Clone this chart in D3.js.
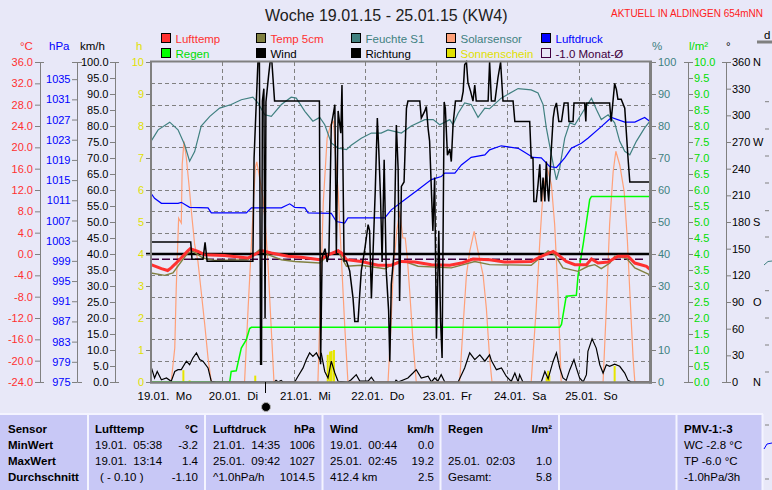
<!DOCTYPE html>
<html><head><meta charset="utf-8">
<script src="https://cdn.jsdelivr.net/npm/d3@7/dist/d3.min.js"></script>
<style>
html,body{margin:0;padding:0;background:#e8e8f8;overflow:hidden}
svg{display:block}
</style></head><body>
<svg id="chart" width="772" height="490"></svg>
<script>
// ---------------- DATA (hours since 19.01. 00:00) ----------------
const dayLabels = ["19.01.  Mo","20.01.  Di","21.01.  Mi","22.01.  Do","23.01.  Fr","24.01.  Sa","25.01.  So"];

const tempHours = [0,3.5,5.6,6.8,9.6,12.4,13.2,15.8,18.0,24.7,32.6,35.9,37.6,40.5,46.1,50.6,56.8,59.8,63.0,64.1,65.8,70.8,76.4,80.9,84.3,88.8,94.4,100.6,104.5,108.4,114.0,119.0,128.0,131.4,135.4,137.0,139.8,142.7,146.6,148.3,150.5,153.9,157.2,160.6,162.9,166.8,168];
const tempVals  = [-2.0,-2.75,-3.1,-2.6,-1.07,0.6,1.0,0.5,-0.13,-0.3,-0.75,0.19,0.6,0.19,-0.43,-0.6,-1.07,-0.13,0.6,0.2,-1.07,-1.4,-2.1,-2.1,-1.4,-1.5,-2.0,-2.1,-1.7,-0.94,-1.07,-1.5,-1.4,-0.43,0.5,-0.13,-1.4,-2.0,-2.0,-0.94,-1.7,-1.5,-0.43,-0.43,-1.7,-2.3,-2.9];

const soilHours = [0,4.6,7.4,10.2,12.4,14.1,17.5,21.4,32.6,36.6,39.4,43.9,48.4,56.8,59.8,63.0,65.8,70.8,78.7,83.2,85.4,89.9,101.1,109.0,114.0,128.0,130.9,133.7,135.9,138.7,143.8,147.1,149.4,151.6,154.5,156.1,160.0,162.9,168];
const soilVals  = [-3.56,-4.0,-3.56,-1.4,0.19,0.5,-0.75,-1.2,-1.07,0.81,-0.13,-1.07,-1.4,-1.7,-0.13,0.5,-2.3,-2.1,-2.75,-1.4,-1.4,-2.3,-2.6,-1.4,-2.0,-2.1,-0.75,0.6,-0.13,-2.6,-3.25,-2.3,-2.0,-2.75,-1.7,-0.43,-0.75,-2.6,-3.9];

const humHours = [0,2.4,6.3,9.1,11.3,13.0,14.7,16.9,19.8,23.1,27.0,30.4,34.3,36.0,38.3,40.5,43.9,47.2,48.9,51.8,54.5,56.8,58.5,60.7,63.0,65.8,67.4,70.8,74.2,77.5,79.8,84.3,87.6,92.2,95.0,97.2,100.6,101.7,103.4,105.6,107.8,110.1,112.4,114.0,117.9,123.6,128.0,130.3,132.0,133.1,134.8,135.9,136.5,137.6,139.3,141.0,142.7,145.5,148.3,150.0,151.6,153.9,156.1,157.8,159.5,161.2,163.4,166.2,168];
const humVals  = [75.2,78.8,81.2,78.8,74.2,69,72,80,83,85.6,86.7,88.2,89,87.2,83.5,83,86.7,89,88.7,84.6,81.5,82.7,80.4,74.7,73.1,72.6,74,76.2,77.8,77.8,78.8,77.8,80,82,82,80.4,82,80.4,84,87.2,86.7,82.7,85.6,85.4,88.7,91.7,91.3,90.3,86.7,79.4,71,65.8,63.2,66.9,76.2,81,80.4,84.6,88.7,85.1,82,83.5,81,75.2,72.1,71,75.2,79.4,81.5];

const presHours = [0,1.2,3.5,9.1,10.2,13.0,19.2,20.3,32.1,33.8,43.9,46.7,48.4,51.8,52.9,60.7,62.4,65.2,66.3,78.7,80.9,85.4,89.9,94.4,97.7,98.9,102.3,104.5,107.8,112.4,114.0,117.9,123.6,125.8,128.6,131.4,134.2,136.5,139.3,141.5,144.9,147.1,151.6,155.0,159.5,162.9,166.2,168];
const presVals  = [1012.4,1011.4,1010.4,1010.4,1010.6,1009.6,1009.5,1008.5,1008.5,1009.5,1009.5,1010.3,1009.6,1009.5,1008.5,1008.4,1006.8,1006.5,1007.5,1007.5,1009.1,1011.1,1013.1,1015.1,1015.7,1016.4,1016.4,1018,1019.5,1020,1021,1021.8,1021.3,1020.5,1019.5,1019.4,1017.7,1017.5,1019.4,1021.3,1022.3,1023.3,1025.6,1027.4,1026.5,1026.5,1027.4,1026.6];

const rainHours = [0,26.5,27.0,28.7,30.4,32.1,33.2,33.8,137.6,138.2,139.8,143.2,143.8,145.5,146.6,147.7,148.3,168];
const rainVals  = [0,0,0.33,0.35,1.06,1.32,1.67,1.71,1.71,1.8,2.68,2.71,3.35,4.3,5.0,5.7,5.8,5.8];

const sunHours = [10.9,13.0,35.1,59.5,60.3,60.8,61.6,133.2,133.7,134.1,156.1];
const sunVals  = [0.37,0.05,0.2,0.85,0.95,0.97,1.0,0.15,0.35,0.2,0.5];

const solarHours = [0,6.8,8.0,8.5,9.3,10.2,10.5,11.1,11.9,13.0,13.6,14.7,15.8,16.9,18.1,19.2,20.3,
  31.5,32.7,33.8,34.7,35.1,35.6,36.6,37.7,38.5,39.4,40.3,41.4,
  56.2,57.0,58.0,59.3,60.5,61.5,62.0,63.0,64.1,65.2,66.3,
  79.8,80.7,81.5,82.6,83.7,84.8,85.6,86.3,87.1,88.2,89.3,
  103.9,105.1,106.2,107.3,108.8,110.1,111.8,112.9,114.0,114.8,
  128.0,129.7,130.9,132.0,133.4,134.8,135.9,137.0,137.6,138.1,
  152.2,153.3,154.4,155.6,156.5,157.8,159.3,160.4,161.2,162.3,162.9,168];
const solarVals = [0,0,106,294,512,497,679,752,700,596,533,429,377,283,179,75,0,
  0,231,429,596,669,688,637,575,492,367,200,0,
  0,250,560,762,804,815,721,596,387,179,0,
  0,158,335,460,533,450,450,387,283,127,0,
  0,179,335,408,471,408,335,231,75,0,
  0,231,440,596,669,617,492,283,127,0,
  0,231,492,658,721,679,596,440,283,75,0,0];

const windHours = [0,1.2,2.1,3.5,5.2,6.8,8.0,9.1,10.2,11.9,13.0,14.1,15.3,16.4,17.5,19.2,20.3,21.9,41.6,42.1,42.8,43.8,44.4,48.4,49.5,51.2,52.3,53.4,54.5,55.7,56.8,57.3,58.5,59.6,60.7,61.9,63.0,66.3,67.4,69.1,70.3,73.1,74.2,75.3,82.1,82.5,83.2,86.5,88.2,89.3,91.0,93.3,94.4,95.5,96.6,97.7,98.9,103.4,105.6,107.3,109.0,110.7,112.4,114.0,114.6,116.3,118.0,119.6,121.3,122.5,123.6,124.1,125.2,131.4,132.6,133.7,135.4,136.5,137.6,138.7,139.8,141.0,142.4,143.2,144.3,145.5,146.6,147.1,148.5,149.9,151.1,152.2,153.3,154.4,156.1,157.8,159.5,160.6,161.7,168];
const windVals  = [4.9,1.25,3.3,0.7,1.25,0.2,3.3,3.85,3.85,6.5,5.4,7.5,9.1,7.0,6.5,4.4,0.2,0,0,0.5,0,0.5,0,0,1.8,4.4,7.0,9.1,8.0,9.1,7.0,9.1,3.3,1.25,6.5,2.8,0.2,0,0.7,2.3,0.3,0.3,1.5,0,0,0.6,0,1.25,2.8,3.85,1.25,1.8,0,1.25,0.3,2.3,0,0,4.4,9.1,7.0,8.5,6.5,8.5,6.7,3.85,4.4,1.8,0.2,2.8,0,2.3,0,0,3.3,1.0,6.5,9.1,4.4,1.25,0.5,3.85,7.0,4.4,1.25,0,2.3,9.6,13.5,10.6,5.4,2.8,5.4,4.9,5.6,4.9,2.8,0.5,0,0];

const dirHours = [0,13.37,13.8,17.5,18.2,18.9,34.3,34.7,35.5,36.0,36.5,36.9,37.2,37.5,38.0,38.4,38.7,39.6,40.1,40.7,41.6,56.7,56.9,57.1,57.6,58.6,59.3,59.9,60.7,61.3,61.9,62.4,63.0,63.9,64.3,65.0,65.8,66.9,68.0,68.6,69.7,70.3,70.8,72.0,73.1,73.6,74.2,74.7,75.5,76.2,76.7,77.3,77.8,78.5,79.2,80.0,80.4,80.9,81.8,82.6,83.2,83.7,84.3,85.2,86.0,86.5,90.5,91.0,92.2,92.7,93.3,93.8,94.9,95.5,96.1,96.9,97.5,98.0,98.7,99.1,99.8,100.6,101.1,101.7,102.5,104.5,105.1,105.6,106.2,106.7,107.6,108.4,109.0,109.5,113.5,114.0,114.6,115.8,116.8,117.7,118.5,121.9,122.5,127.5,128.0,128.6,128.9,129.7,130.3,130.9,131.4,132.0,132.6,133.1,133.4,133.9,134.6,135.4,135.9,136.5,137.3,138.2,139.1,140.4,140.7,142.1,142.4,146.0,146.4,146.6,154.4,154.9,156.1,156.7,157.2,158.3,159.5,160.6,161.2,168];
const dirVals  = [157.5,157.5,138,138,157,135.8,135.8,252,319,360,360,20,20,316,330,72,315,345,360,360,316,316,165,20,140,150,135,145,289,300,312,145,305,280,334,136,136,125,95,68,68,100,125,150,177,170,94,140,215,297,260,205,135,250,125,80,23,110,145,289,240,91,220,225,308,316,316,297,305,310,285,271,170,230,49,170,68,27,315,308,255,262,248,290,316,316,327,357,360,337,327,316,334,316,316,360,316,316,342,360,316,316,293,293,252,252,203,203,222,245,203,230,203,248,222,203,252,297,308,314,293,293,314,314,293,293,314,314,293,314,314,293,336,329,318,318,308,252,225,225];

const tempTicks = d3.range(-24, 37, 4);
const presTicks = d3.range(975, 1036, 4);
const windTicks = d3.range(0, 101, 5);
const sunTicks  = d3.range(0, 11, 1);
const humTicks  = d3.range(0, 101, 10);
const rainTicks = d3.range(0, 21).map(i => i / 2);
const dirTicks  = d3.range(0, 361, 30);
const dirLetters = {0:"N", 90:"O", 180:"S", 270:"W", 360:"N"};

const legendRow1 = ["Lufttemp","Temp 5cm","Feuchte S1","Solarsensor","Luftdruck"];
const legendRow2 = ["Regen","Wind","Richtung","Sonnenschein","-1.0 Monat-Ø"];

const tableSensor = ["Sensor","MinWert","MaxWert","Durchschnitt"];
const tableLuft   = [["Lufttemp","°C"],["19.01.  05:38","-3.2"],["19.01.  13:14","1.4"],["( - 0.10 )","-1.10"]];
const tableDruck  = [["Luftdruck","hPa"],["21.01.  14:35","1006"],["25.01.  09:42","1027"],["^1.0hPa/h","1014.5"]];
const tableWind   = [["Wind","km/h"],["19.01.  00:44","0.0"],["25.01.  02:45","19.2"],["412.4 km","2.5"]];
const tableRegen  = [["Regen","l/m²"],["",""],["25.01.  02:03","1.0"],["Gesamt:","5.8"]];
const tablePMV    = ["PMV-1:-3","WC -2.8 °C","TP -6.0 °C","-1.0hPa/3h"];

// ---------------- DRAWING ----------------
const FONT = "'Liberation Sans', Arial, sans-serif";
const C = {red:'#ff3030', olive:'#808040', teal:'#408080', salmon:'#ffa078', blue:'#0000ff',
  green:'#00ff00', greenText:'#00dd00', yellow:'#e0e000', purple:'#400040', gray:'#808080'};
const svg = d3.select('#chart').attr('font-family', FONT);
svg.append('rect').attr('width', 772).attr('height', 490).attr('fill', '#e8e8f8');

const L = 151, R = 650, T = 62, B = 382;
const x = d3.scaleLinear().domain([0, 168]).range([L, R]);
const yT = d3.scaleLinear().domain([-24, 36]).range([B, T]);
const yP = d3.scaleLinear().domain([975, 1038.4]).range([B, T]);
const yW = d3.scaleLinear().domain([0, 100]).range([B, T]);
const yS = d3.scaleLinear().domain([0, 10]).range([B, T]);
const yH = d3.scaleLinear().domain([0, 100]).range([B, T]);
const yR = d3.scaleLinear().domain([0, 10]).range([B, T]);
const yD = d3.scaleLinear().domain([0, 360]).range([B, T]);
const ySol = d3.scaleLinear().domain([0, 1000]).range([B, T]);

// title
svg.append('text').attr('x', 265).attr('y', 21).attr('font-size', 16).attr('fill', '#202020')
  .text('Woche 19.01.15 - 25.01.15 (KW4)');
svg.append('text').attr('x', 611).attr('y', 17).attr('font-size', 10.5).attr('fill', '#ff2020')
  .attr('textLength', 152).attr('lengthAdjust', 'spacingAndGlyphs').text('AKTUELL IN ALDINGEN 654mNN');

// legend
const boxFill1 = [C.red, C.olive, C.teal, C.salmon, C.blue];
const txtFill1 = [C.red, C.red, C.teal, C.teal, C.blue];
const boxFill2 = [C.green, '#000', '#000', C.yellow, 'none'];
const txtFill2 = [C.greenText, '#000', '#000', C.yellow, C.purple];
[[legendRow1, boxFill1, txtFill1, 33.5, 43], [legendRow2, boxFill2, txtFill2, 48.5, 58]].forEach(([names, bf, tf, by, ty]) => {
  names.forEach((n, i) => {
    const bx = 161.5 + i * 95;
    svg.append('rect').attr('x', bx).attr('y', by).attr('width', 9).attr('height', 9)
      .attr('fill', bf[i]).attr('stroke', bf[i] === 'none' ? C.purple : '#000').attr('stroke-width', 1);
    svg.append('text').attr('x', bx + 14).attr('y', ty).attr('font-size', 11.5).attr('fill', tf[i]).text(n);
  });
});

// grid
const grid = svg.append('g').attr('stroke', C.gray).attr('stroke-dasharray', '4,3').attr('stroke-width', 1);
tempTicks.slice(1, -1).forEach(t => grid.append('line').attr('x1', L).attr('x2', R).attr('y1', Math.round(yT(t)) + 0.5).attr('y2', Math.round(yT(t)) + 0.5));
d3.range(24, 168, 24).forEach(h => grid.append('line').attr('x1', Math.round(x(h)) + 0.5).attr('x2', Math.round(x(h)) + 0.5).attr('y1', T).attr('y2', B));

const pts = (h, v) => h.map((t, i) => [t, v[i]]);
const lineFor = ys => d3.line().x(d => x(d[0])).y(d => ys(d[1]));
const plot = svg.append('g');

plot.append('path').attr('d', lineFor(ySol)(pts(solarHours, solarVals))).attr('fill', 'none').attr('stroke', C.salmon).attr('stroke-width', 1.2);
plot.selectAll('rect.sun').data(pts(sunHours, sunVals)).enter().append('rect')
  .attr('x', d => x(d[0]) - 1).attr('width', 2).attr('y', d => yS(d[1])).attr('height', d => B - yS(d[1])).attr('fill', '#e6e600');
plot.append('path').attr('d', lineFor(yH)(pts(humHours, humVals))).attr('fill', 'none').attr('stroke', C.teal).attr('stroke-width', 1.2);
plot.append('path').attr('d', lineFor(yP)(pts(presHours, presVals))).attr('fill', 'none').attr('stroke', C.blue).attr('stroke-width', 1.2);
plot.append('path').attr('d', lineFor(yR)(pts(rainHours, rainVals))).attr('fill', 'none').attr('stroke', C.green).attr('stroke-width', 1.5);
// 0°C line and monthly mean
plot.append('line').attr('x1', 146).attr('x2', R + 1).attr('y1', yT(0)).attr('y2', yT(0)).attr('stroke', '#000').attr('stroke-width', 2.5);
plot.append('line').attr('x1', L).attr('x2', R - 4).attr('y1', yT(-1)).attr('y2', yT(-1)).attr('stroke', C.purple).attr('stroke-width', 1.5).attr('stroke-dasharray', '8,3');
plot.append('path').attr('d', lineFor(yT)(pts(soilHours, soilVals))).attr('fill', 'none').attr('stroke', C.olive).attr('stroke-width', 1.4);
plot.append('path').attr('d', lineFor(yT)(pts(tempHours, tempVals))).attr('fill', 'none').attr('stroke', C.red).attr('stroke-width', 3);
plot.append('path').attr('d', lineFor(yW)(pts(windHours, windVals))).attr('fill', 'none').attr('stroke', '#000').attr('stroke-width', 1.2);
plot.append('path').attr('d', lineFor(yD)(pts(dirHours, dirVals))).attr('fill', 'none').attr('stroke', '#000').attr('stroke-width', 1.5);

// frame
const fr = svg.append('g').attr('stroke', C.gray);
fr.append('line').attr('x1', L).attr('x2', L).attr('y1', T - 1).attr('y2', B + 1).attr('stroke-width', 2);
fr.append('line').attr('x1', L - 1).attr('x2', R + 2).attr('y1', T - 0.5).attr('y2', T - 0.5).attr('stroke-width', 2);
fr.append('line').attr('x1', L - 1).attr('x2', R + 2).attr('y1', B + 0.5).attr('y2', B + 0.5).attr('stroke-width', 2.5);
fr.append('line').attr('x1', R + 0.5).attr('x2', R + 0.5).attr('y1', T - 1).attr('y2', B + 1.5).attr('stroke-width', 3);

// axes
function styleAxis(g, color, ends, right) {
  g.attr('font-size', null).attr('font-family', null);
  g.select('.domain').attr('stroke', C.gray);
  g.selectAll('.tick line').attr('stroke', C.gray);
  g.selectAll('.tick text').attr('fill', color).attr('font-size', 11);
  if (ends) {
    const n = g.selectAll('.tick').size();
    g.selectAll('.tick line').filter((d, i) => i === 0 || i === n - 1).attr('x1', right ? -4 : 4);
  }
}
const fmt1 = d => d.toFixed(1);
svg.append('g').attr('transform', 'translate(40,0)')
  .call(d3.axisLeft(yT).tickValues(tempTicks).tickFormat(fmt1).tickSizeInner(5).tickSizeOuter(0).tickPadding(2))
  .call(g => styleAxis(g, C.red, true, false));
svg.append('g').attr('transform', 'translate(77,0)')
  .call(d3.axisLeft(yP).tickValues(presTicks).tickFormat(d => d).tickSizeInner(5).tickSizeOuter(0).tickPadding(1.5))
  .call(g => styleAxis(g, C.blue, false, false));
svg.append('line').attr('x1', 72).attr('x2', 82).attr('y1', T + 0.5).attr('y2', T + 0.5).attr('stroke', C.gray);
svg.append('line').attr('x1', 77.5).attr('x2', 82).attr('y1', B + 0.5).attr('y2', B + 0.5).attr('stroke', C.gray);
svg.append('g').attr('transform', 'translate(115,0)')
  .call(d3.axisLeft(yW).tickValues(windTicks).tickFormat(fmt1).tickSizeInner(5).tickSizeOuter(0).tickPadding(1.5))
  .call(g => styleAxis(g, '#000', true, false));
svg.append('g').attr('transform', 'translate(150,0)')
  .call(d3.axisLeft(yS).tickValues(sunTicks).tickFormat(d => d).tickSizeInner(4).tickSizeOuter(0).tickPadding(2))
  .call(g => styleAxis(g, C.yellow, false, false));

svg.append('g').attr('transform', 'translate(651,0)')
  .call(d3.axisRight(yH).tickValues(humTicks).tickFormat(d => d).tickSizeInner(5).tickSizeOuter(0).tickPadding(2))
  .call(g => { styleAxis(g, C.teal, false, true); g.select('.domain').remove(); });
svg.append('g').attr('transform', 'translate(688,0)')
  .call(d3.axisRight(yR).tickValues(rainTicks).tickFormat(fmt1).tickSizeInner(5).tickSizeOuter(0).tickPadding(1))
  .call(g => styleAxis(g, C.greenText, true, true));
svg.append('g').attr('transform', 'translate(726,0)')
  .call(d3.axisRight(yD).tickValues(dirTicks).tickFormat(d => d).tickSizeInner(5).tickSizeOuter(0).tickPadding(1))
  .call(g => {
    styleAxis(g, '#000', true, true);
    g.selectAll('.tick').filter(d => dirLetters[d]).append('text')
      .attr('x', 27).attr('dy', '0.32em').attr('fill', '#000').attr('font-size', 11).text(d => dirLetters[d]);
  });

// unit headers
const heads = [['°C', 20, C.red], ['hPa', 49, C.blue], ['km/h', 80, '#000'], ['h', 136, C.yellow],
  ['%', 652, C.teal], ['l/m²', 689, C.greenText], ['°', 726, '#000']];
heads.forEach(([t, hx, col]) => svg.append('text').attr('x', hx).attr('y', 50).attr('font-size', 11.5).attr('fill', col).text(t));

// x axis labels
svg.append('g').attr('transform', `translate(0,${B})`)
  .call(d3.axisBottom(x).tickValues(d3.range(0, 168, 24)).tickSize(0).tickFormat(h => dayLabels[h / 24]))
  .call(g => {
    g.attr('font-size', null).attr('font-family', null);
    g.select('.domain').remove();
    g.selectAll('.tick text').attr('x', -14).attr('y', 18).attr('dy', null)
      .attr('text-anchor', 'start').attr('fill', '#000').attr('font-size', 11.5).attr('xml:space', 'preserve');
  });

// now marker
svg.append('line').attr('x1', 265.5).attr('x2', 265.5).attr('y1', B).attr('y2', 393).attr('stroke', '#000');
svg.append('circle').attr('cx', 266).attr('cy', 407).attr('r', 4.5).attr('fill', '#000').attr('stroke', '#b0b0b0').attr('stroke-width', 1);

// right edge fragments
svg.append('line').attr('x1', 757).attr('x2', 772).attr('y1', 42).attr('y2', 42).attr('stroke', C.gray).attr('stroke-width', 3);
svg.append('text').attr('x', 764).attr('y', 39).attr('font-size', 11.5).attr('fill', '#000').text('d');
[101.7, 129, 156, 183, 210.7, 237, 290.7, 318, 345, 372, 425, 479].forEach(yy =>
  svg.append('line').attr('x1', 765).attr('x2', 769).attr('y1', yy).attr('y2', yy).attr('stroke', C.gray));
svg.append('path').attr('d', 'M764,265 Q768,260 772,261').attr('fill', 'none').attr('stroke', C.teal);

// table
const tb = svg.append('g');
tb.append('rect').attr('x', 0).attr('y', 414).attr('width', 763).attr('height', 80).attr('fill', '#c8c8f6');
tb.append('line').attr('x1', 0).attr('x2', 763).attr('y1', 414).attr('y2', 414).attr('stroke', '#f4f4ff').attr('stroke-width', 2);
[88, 205, 322.5, 440.5, 559, 676.5, 762.5].forEach(sx =>
  tb.append('line').attr('x1', sx).attr('x2', sx).attr('y1', 414).attr('y2', 490).attr('stroke', '#f4f4ff').attr('stroke-width', 2));
tb.append('path').attr('d', 'M764,449 L767,444 L772,443').attr('fill', 'none').attr('stroke', C.blue);
const rowY = [433, 449, 465, 481];
tableSensor.forEach((t, i) => tb.append('text').attr('x', 8).attr('y', rowY[i]).attr('font-size', 11.5).attr('font-weight', 'bold').attr('fill', '#000').text(t));
[[tableLuft, 95, 198], [tableDruck, 213, 315], [tableWind, 330, 434], [tableRegen, 448, 552]].forEach(([rows, lx, rx]) => {
  rows.forEach((r, i) => {
    const bold = i === 0 ? 'bold' : 'normal';
    tb.append('text').attr('x', i === 3 && rows === tableLuft ? 100 : lx).attr('y', rowY[i]).attr('font-size', 11.5)
      .attr('font-weight', bold).attr('fill', '#000').attr('xml:space', 'preserve').text(r[0]);
    tb.append('text').attr('x', rx).attr('y', rowY[i]).attr('font-size', 11.5).attr('text-anchor', 'end')
      .attr('font-weight', bold).attr('fill', '#000').text(r[1]);
  });
});
tablePMV.forEach((t, i) => tb.append('text').attr('x', 684).attr('y', rowY[i]).attr('font-size', 11.5)
  .attr('font-weight', i === 0 ? 'bold' : 'normal').attr('fill', '#000').text(t));
</script>
</body></html>
